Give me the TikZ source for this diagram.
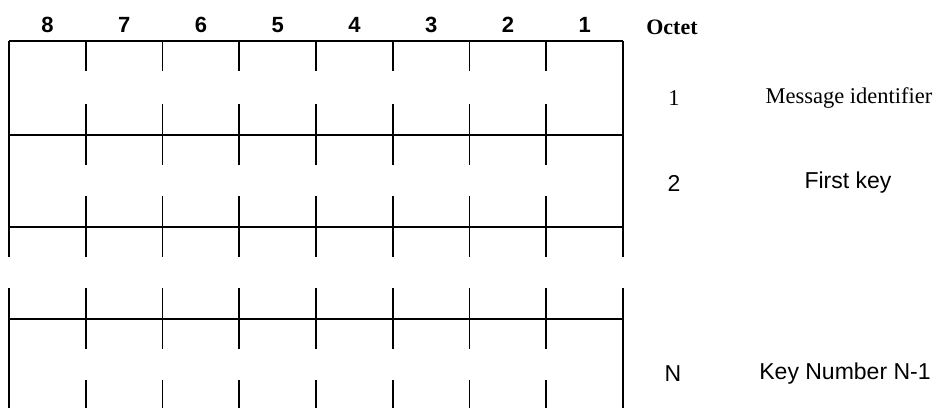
\documentclass[tikz,border=0pt]{standalone}
\usepackage{fontspec}
\setmainfont{Liberation Serif}
\setsansfont{Liberation Sans}
\usetikzlibrary{positioning}

\begin{document}
\begin{tikzpicture}[
  x=1pt, y=-1pt,
  grid/.style={line width=1.9pt, black},
  bitnum/.style={font=\fontsize{22}{26}\selectfont\sffamily\bfseries},
  octhead/.style={font=\fontsize{22}{26}\selectfont\bfseries},
  serifl/.style={font=\fontsize{22.5}{26}\selectfont},
  sansl/.style={font=\fontsize{23}{27}\selectfont\sffamily}
]
\useasboundingbox (0,0) rectangle (936,408);

% bit numbers over the columns
\foreach \b [count=\i from 0] in {8,7,6,5,4,3,2,1}
  \node[bitnum] (bit\b) at ({47.4+76.75*\i},25) {\b};
\node[octhead] (octet) at (672,27) {Octet};

% outer edges, with the gap between the octets
\draw[grid] (9,41) -- (9,257) (623,41) -- (623,257);
\draw[grid] (9,288) -- (9,408) (623,288) -- (623,408);

% octet boundaries
\foreach \y in {41,135,227,319}
  \draw[grid] (9,\y) -- (623,\y);

% bit ticks
\foreach \i in {1,...,7}
  \foreach \ya/\yb in {41/71,104/165,196/257,288/349,380/408}
    \draw[grid] ({9+76.75*\i},\ya) -- ({9+76.75*\i},\yb);

% octet labels
\node[serifl] (o1) at (674,98) {1};
\node[serifl] (msg) at (849,98) {Message identifier};
\node[sansl] (o2) at (674,183) {2};
\node[sansl] (key1) at (848,183) {First key};
\node[sansl] (oN) at (673,374) {N};
\node[sansl] (keyN) at (845,374) {Key Number N-1};
\end{tikzpicture}
\end{document}
